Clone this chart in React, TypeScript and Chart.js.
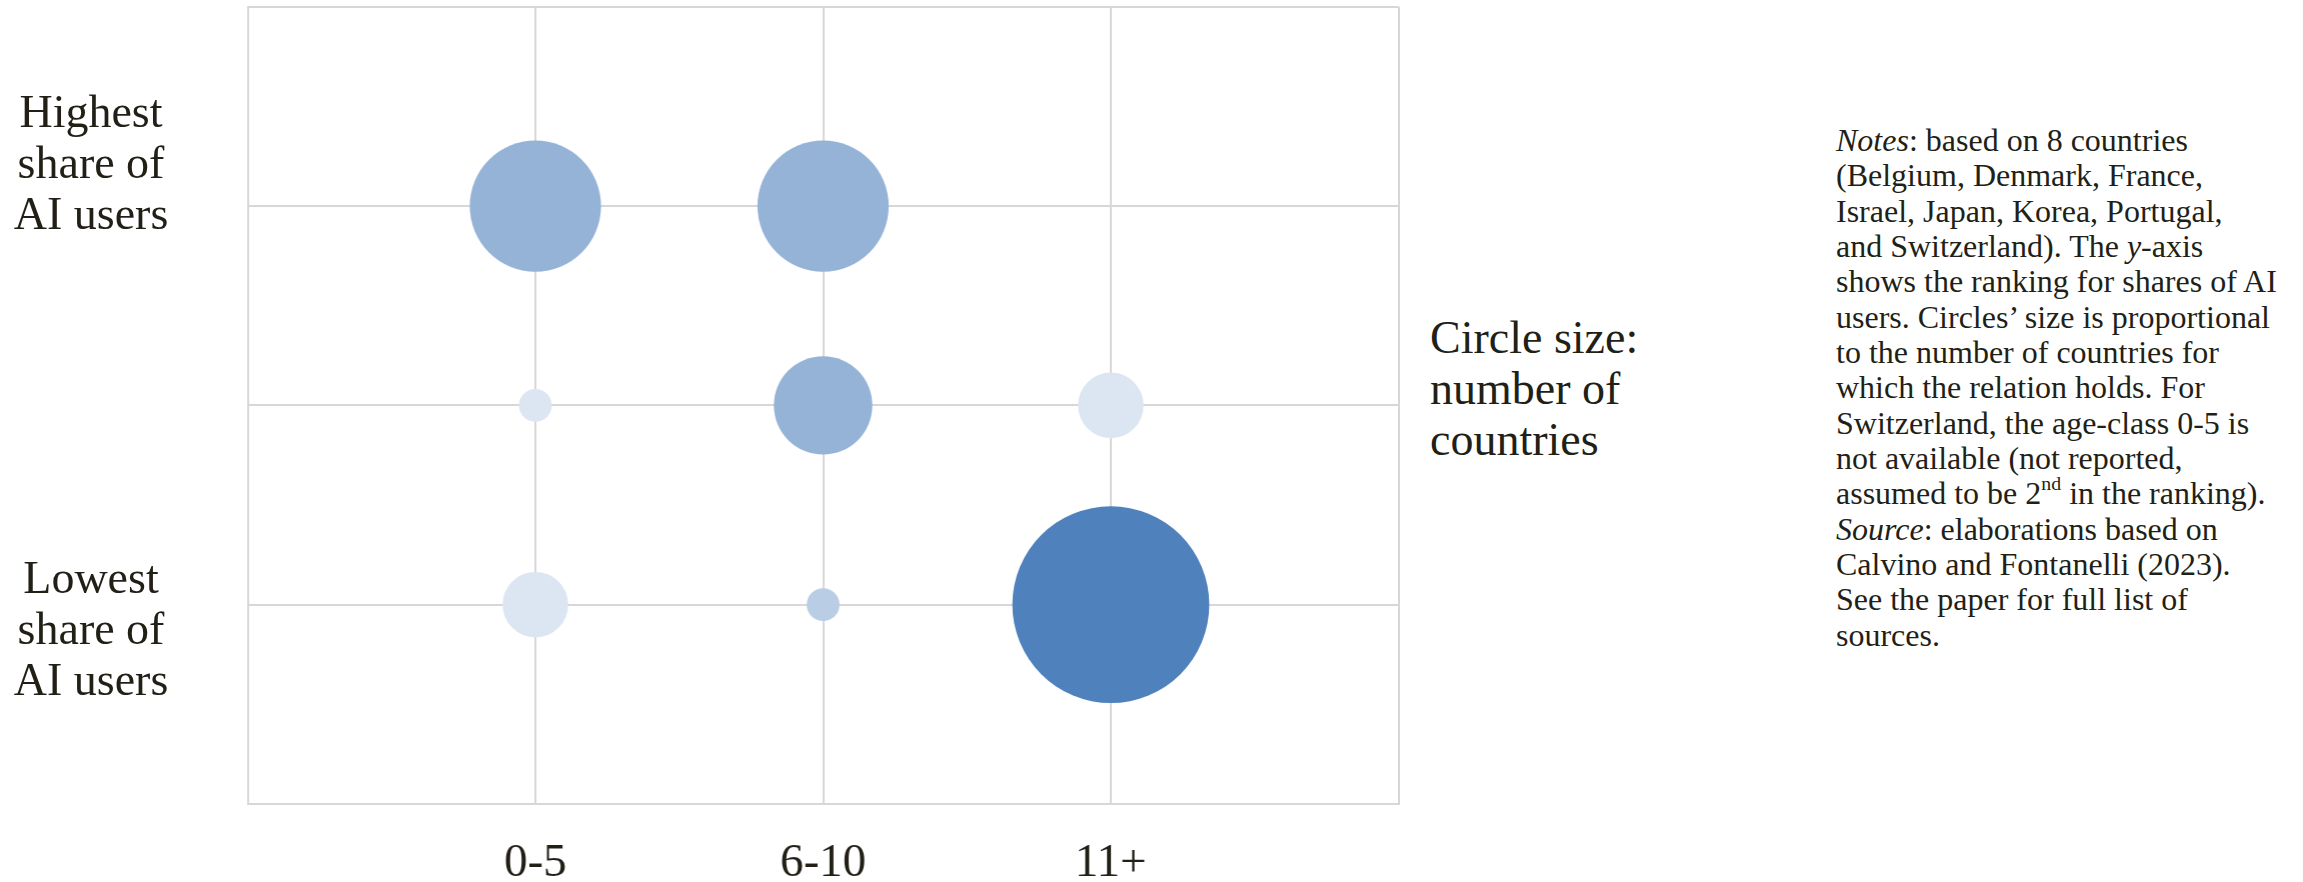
import React, { useEffect, useRef } from "react";
import { Chart, registerables } from "chart.js";

Chart.register(...registerables);

// ---- data ----
const categories = ["0-5", "6-10", "11+"];
// x: age class position (1 = 0-5, 2 = 6-10, 3 = 11+)
const ageClassIndex = [1, 2, 1, 2, 3, 1, 2, 3];
// y: ranking position (3 = highest share of AI users, 1 = lowest)
const rankPosition = [3, 3, 2, 2, 2, 1, 1, 1];
// number of countries for which the relation holds
const countryCounts = [4, 4, 1, 3, 2, 2, 1, 6];
const bubbleColors = [
  "#95B3D7",
  "#95B3D7",
  "#DCE6F2",
  "#95B3D7",
  "#DCE6F2",
  "#DCE6F2",
  "#B9CDE5",
  "#4F81BD",
];
const highLabel = ["Highest", "share of", "AI users"];
const lowLabel = ["Lowest", "share of", "AI users"];
const sizeLabel = ["Circle size:", "number of", "countries"];

const RADIUS_PER_COUNTRY = 16.4;
const FONT = "'Liberation Serif', 'DejaVu Serif', serif";
const TEXT = "#221f17";
const GRID = "#d7d7d7";
const TICK_PAD = 31;

export default function App() {
  const canvasRef = useRef<HTMLCanvasElement | null>(null);

  useEffect(() => {
    if (!canvasRef.current) return;
    const points = ageClassIndex.map((x, i) => ({
      x,
      y: rankPosition[i],
      r: countryCounts[i] * RADIUS_PER_COUNTRY,
    }));
    const chart = new Chart(canvasRef.current, {
      type: "bubble",
      data: {
        datasets: [
          {
            data: points,
            backgroundColor: bubbleColors,
            borderWidth: 0,
            hoverBorderWidth: 0,
            hoverRadius: 0,
            clip: false,
          } as any,
        ],
      },
      options: {
        animation: false,
        responsive: true,
        maintainAspectRatio: false,
        events: [],
        layout: { autoPadding: false, padding: { top: 6.7, right: 0, left: 0, bottom: 0 } },
        plugins: {
          legend: { display: false },
          tooltip: { enabled: false },
        },
        scales: {
          x: {
            type: "linear",
            min: 0,
            max: 4,
            afterFit: (s: any) => {
              s.height = 78;
            },
            ticks: {
              stepSize: 1,
              padding: TICK_PAD,
              color: TEXT,
              font: { family: FONT, size: 47, lineHeight: 1.2 },
              callback: (v: any) => categories[Number(v) - 1] ?? "",
            },
            grid: { color: GRID, lineWidth: 2, drawTicks: false },
            border: { color: GRID, width: 2 },
          },
          y: {
            type: "linear",
            min: 0,
            max: 4,
            afterFit: (s: any) => {
              s.width = 247.5;
            },
            ticks: { stepSize: 1, display: false },
            grid: { color: GRID, lineWidth: 2, drawTicks: false },
            border: { color: GRID, width: 2 },
          },
        },
      },
    });
    return () => chart.destroy();
  }, []);

  const bigText: React.CSSProperties = {
    position: "absolute",
    fontFamily: FONT,
    fontSize: 46,
    lineHeight: "51px",
    color: TEXT,
    whiteSpace: "nowrap",
  };

  return (
    <div
      style={{
        position: "absolute",
        left: 0,
        top: 0,
        width: 2303,
        height: 882,
        overflow: "hidden",
        background: "#fff",
      }}
    >
      <div style={{ position: "absolute", left: 0, top: 0, width: 1397.5 + TICK_PAD, height: 882 }}>
        <canvas ref={canvasRef} />
      </div>
      <div style={{ ...bigText, left: 0, top: 86, width: 182, textAlign: "center" }}>
        {highLabel.map((l, i) => (
          <div key={i}>{l}</div>
        ))}
      </div>
      <div style={{ ...bigText, left: 0, top: 552, width: 182, textAlign: "center" }}>
        {lowLabel.map((l, i) => (
          <div key={i}>{l}</div>
        ))}
      </div>
      <div style={{ ...bigText, left: 1430, top: 312 }}>
        {sizeLabel.map((l, i) => (
          <div key={i}>{l}</div>
        ))}
      </div>
      <div
        style={{
          position: "absolute",
          left: 1836,
          top: 123,
          fontFamily: FONT,
          fontSize: 32,
          lineHeight: "35.35px",
          color: TEXT,
          whiteSpace: "nowrap",
        }}
      >
        <div>
          <i>Notes</i>: based on 8 countries
        </div>
        <div>(Belgium, Denmark, France,</div>
        <div>Israel, Japan, Korea, Portugal,</div>
        <div>
          and Switzerland). The <i>y</i>-axis
        </div>
        <div>shows the ranking for shares of AI</div>
        <div>users. Circles’ size is proportional</div>
        <div>to the number of countries for</div>
        <div>which the relation holds. For</div>
        <div>Switzerland, the age-class 0-5 is</div>
        <div>not available (not reported,</div>
        <div>
          assumed to be 2
          <sup style={{ fontSize: "0.62em", lineHeight: 0, verticalAlign: "0.7em" }}>nd</sup> in the
          ranking).
        </div>
        <div>
          <i>Source</i>: elaborations based on
        </div>
        <div>Calvino and Fontanelli (2023).</div>
        <div>See the paper for full list of</div>
        <div>sources.</div>
      </div>
    </div>
  );
}
